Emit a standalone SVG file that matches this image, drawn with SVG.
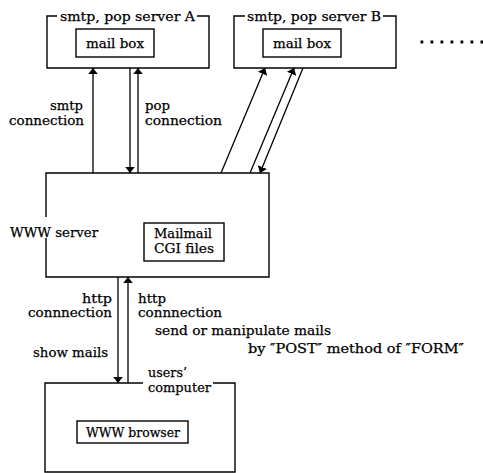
<svg xmlns="http://www.w3.org/2000/svg" width="483" height="473" viewBox="0 0 483 473">
  <style>
    .box { fill: none; stroke: #000; stroke-width: 1.4; }
    .arr { fill: none; stroke: #000; stroke-width: 1.3; marker-end: url(#head); }
    text { font-family: "DejaVu Serif", "Liberation Serif", serif; font-size: 13px; fill: #000; stroke: #000; stroke-width: 0.25; }
  </style>
  <defs>
    <marker id="head" viewBox="0 0 10 16" refX="10" refY="8" markerWidth="6.5" markerHeight="10" markerUnits="userSpaceOnUse" orient="auto">
      <path d="M0,0 L10,8 L0,16 Z" fill="#000"/>
    </marker>
  </defs>
  <rect width="483" height="473" fill="#fff"/>

  <!-- mail server A -->
  <g id="serverA">
    <path class="box" d="M57,16 H47 V68 H209 V16 H197"/>
    <text x="60" y="20.5" textLength="135" lengthAdjust="spacingAndGlyphs">smtp, pop server A</text>
    <g id="mailboxA">
      <rect class="box" x="76" y="29" width="78" height="28"/>
      <text x="86" y="48" textLength="58" lengthAdjust="spacingAndGlyphs">mail box</text>
    </g>
  </g>

  <!-- mail server B -->
  <g id="serverB">
    <path class="box" d="M245,16 H234 V68 H396 V16 H383"/>
    <text x="247" y="20.5" textLength="134" lengthAdjust="spacingAndGlyphs">smtp, pop server B</text>
    <g id="mailboxB">
      <rect class="box" x="263" y="29" width="78" height="28"/>
      <text x="273" y="48" textLength="58" lengthAdjust="spacingAndGlyphs">mail box</text>
    </g>
  </g>

  <!-- further servers -->
  <line x1="420.5" y1="42" x2="483" y2="42" stroke="#000" stroke-width="2.8" stroke-dasharray="2.8 7.2"/>

  <!-- WWW server -->
  <g id="wwwServer">
    <path class="box" d="M46,217 V173 H269 V277 H46 V238"/>
    <text x="10" y="237" textLength="88" lengthAdjust="spacingAndGlyphs">WWW server</text>
    <g id="cgi">
      <rect class="box" x="144" y="223" width="80" height="38"/>
      <text x="154" y="238" textLength="58" lengthAdjust="spacingAndGlyphs">Mailmail</text>
      <text x="154" y="253" textLength="60" lengthAdjust="spacingAndGlyphs">CGI files</text>
    </g>
  </g>

  <!-- users' computer -->
  <g id="userComputer">
    <path class="box" d="M143,383 H45 V472 H235 V383 H213"/>
    <text x="148" y="377" textLength="39" lengthAdjust="spacingAndGlyphs">users’</text>
    <text x="148" y="392" textLength="63" lengthAdjust="spacingAndGlyphs">computer</text>
    <g id="browser">
      <rect class="box" x="77" y="421" width="111" height="22"/>
      <text x="86" y="437" textLength="94" lengthAdjust="spacingAndGlyphs">WWW browser</text>
    </g>
  </g>

  <!-- connections -->
  <g id="connectors">
    <line class="arr" x1="93" y1="173" x2="93" y2="68"/>
    <line class="arr" x1="130" y1="68" x2="130" y2="173"/>
    <line class="arr" x1="138" y1="173" x2="138" y2="68"/>
    <line class="arr" x1="221" y1="173" x2="265" y2="68"/>
    <line class="arr" x1="250" y1="173" x2="294" y2="68"/>
    <line class="arr" x1="303" y1="68" x2="260" y2="173"/>
    <line class="arr" x1="118" y1="277" x2="118" y2="383"/>
    <line class="arr" x1="128" y1="383" x2="128" y2="277"/>
  </g>

  <!-- connection labels -->
  <g id="labels">
    <text x="50" y="110" textLength="33" lengthAdjust="spacingAndGlyphs">smtp</text>
    <text x="9" y="125" textLength="75" lengthAdjust="spacingAndGlyphs">connection</text>
    <text x="145" y="110" textLength="25" lengthAdjust="spacingAndGlyphs">pop</text>
    <text x="145" y="125" textLength="77" lengthAdjust="spacingAndGlyphs">connection</text>
    <text x="82" y="303" textLength="30" lengthAdjust="spacingAndGlyphs">http</text>
    <text x="28" y="317" textLength="84" lengthAdjust="spacingAndGlyphs">connnection</text>
    <text x="138" y="303" textLength="28" lengthAdjust="spacingAndGlyphs">http</text>
    <text x="138" y="317" textLength="84" lengthAdjust="spacingAndGlyphs">connnection</text>
    <text x="155" y="335" textLength="176" lengthAdjust="spacingAndGlyphs">send or manipulate mails</text>
    <text x="248" y="353" textLength="216" lengthAdjust="spacingAndGlyphs">by ″POST″ method of ″FORM″</text>
    <text x="33" y="357" textLength="75" lengthAdjust="spacingAndGlyphs">show mails</text>
  </g>
</svg>
